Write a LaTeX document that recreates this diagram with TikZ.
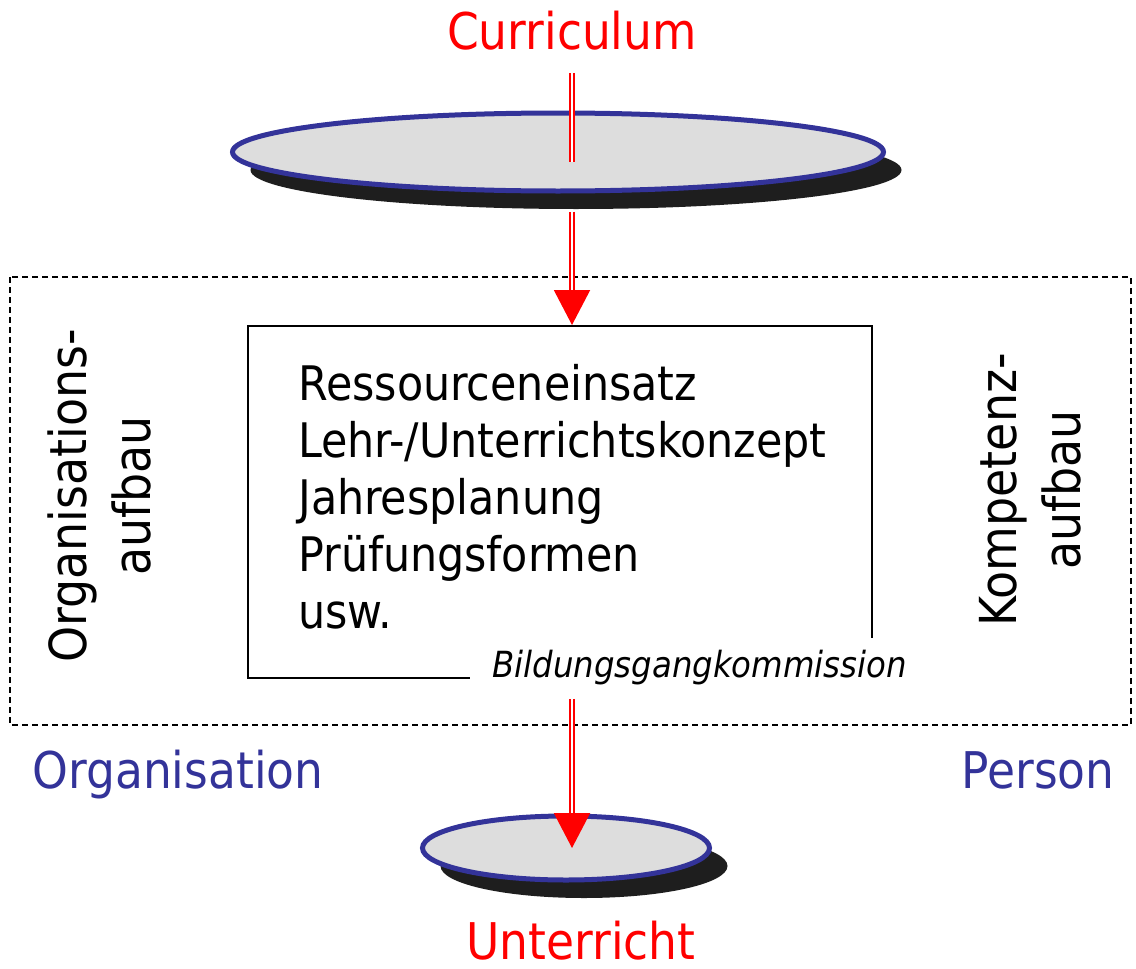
\documentclass[tikz,border=0pt]{standalone}
\usepackage{fontspec}
\setmainfont{DejaVu Sans Condensed}
\usepackage{tikz}
\usepackage{xcolor}
\usetikzlibrary{positioning, arrows.meta, shapes.geometric, shadows}

\definecolor{blau}{RGB}{51,51,153}
\definecolor{hellgrau}{RGB}{221,221,221}
\definecolor{schatten}{RGB}{30,30,30}

\tikzset{
    scheibe/.style={ellipse, draw=blau, line width=2.5pt, fill=hellgrau, inner sep=0pt,
        drop shadow={shadow xshift=9pt, shadow yshift=-9pt, fill=schatten, opacity=1}},
    pfeil/.style={draw=red, double=white, double distance=1.2pt, line width=1pt},
    gross/.style={font=\fontsize{25.3}{30}\selectfont},
    mittel/.style={font=\fontsize{23.8}{28}\selectfont},
    senkrecht/.style={rotate=90, align=center, font=\fontsize{25.5}{32}\selectfont}
}

\begin{document}
\begin{tikzpicture}[x=0.5pt, y=-0.5pt]
    \useasboundingbox (0,0) rectangle (1136,969);

    % Rahmen und Kasten
    \draw[dashed, line width=0.8pt, dash pattern=on 3pt off 2pt] (10,277) rectangle (1131,725);
    \node[draw, line width=0.8pt, minimum width=312pt, minimum height=176pt, anchor=north west, inner sep=0pt] (kasten) at (247,325) {};
    \foreach \zeile [count=\i] in {Ressourceneinsatz, Lehr-/Unterrichtskonzept, Jahresplanung, Prüfungsformen, usw.}
        \node[mittel, anchor=base west, inner sep=0pt] (z\i) at (298,{343+57*\i}) {\zeile};
    \node[fill=white, anchor=base west, inner xsep=11pt, inner ysep=6pt, font=\fontsize{18}{22}\selectfont\itshape] (bgk) at (470,677) {Bildungsgangkommission};

    % Beschriftungen
    \node[gross, red, anchor=base] (cur) at (572,49) {Curriculum};
    \node[gross, red, anchor=base] (unt) at (581,959) {Unterricht};
    \node[gross, blau, anchor=base] (org) at (178,788) {Organisation};
    \node[gross, blau, anchor=base] (per) at (1038,788) {Person};
    \node[senkrecht] (oa) at (99,496) {Organisations-\\aufbau};
    \node[senkrecht] (ka) at (1030,490) {Kompetenz-\\aufbau};

    % Scheiben
    \node[scheibe, minimum width=325.5pt, minimum height=39pt] (oben) at (558,152) {};
    \node[scheibe, minimum width=143.5pt, minimum height=32pt] (unten) at (566,848) {};

    % Pfeile
    \draw[pfeil, shorten <=8pt, shorten >=-5pt] (cur.south) -- (cur.south |- oben.center);
    \draw[pfeil, shorten <=9pt, -{Triangle[width=18pt, length=17.5pt, fill=red]}] (cur.south |- oben.south) -- (cur.south |- kasten.north);
    \draw[pfeil, shorten <=1pt, -{Triangle[width=18pt, length=17.5pt, fill=red]}] (cur.south |- bgk.south) -- (cur.south |- unten.center);
\end{tikzpicture}
\end{document}
